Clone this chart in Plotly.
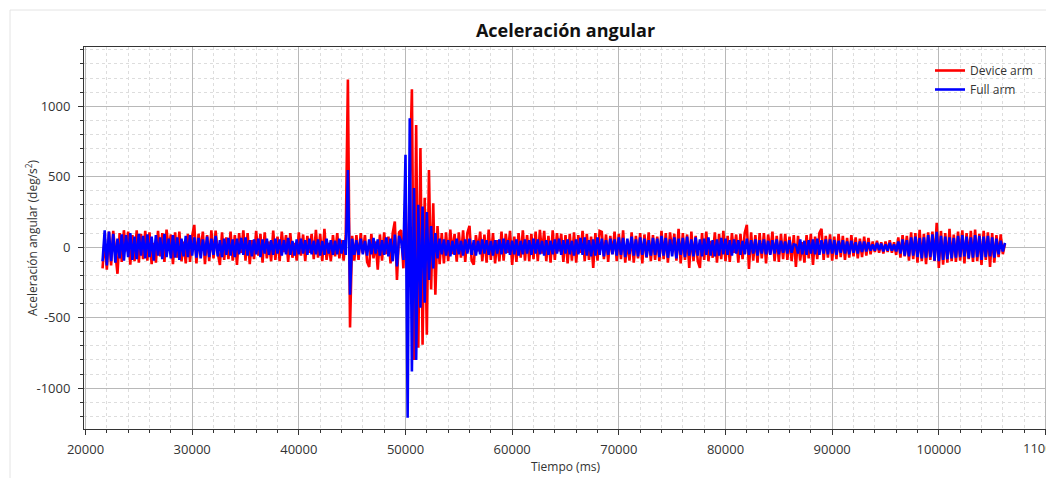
import plotly.graph_objects as go

# Sampling of the recordings (ms)
T_START = 21600
T_STEP = 200

# Device arm angular acceleration (deg/s^2)
device_arm = [
    -150, 60, -160, 110, -130, 115, -40, -189, 100, -105, 120, -30, 110, -125, 85, -100, 120, -110, 95, -85,
    115, -95, 105, -120, 30, -110, 115, -65, 100, -105, 125, -20, 90, -120, 105, -75, 110, -100, 40, -115,
    95, -105, 80, 158, -115, 95, -30, 110, -120, 85, -100, 120, -80, 118, -40, -126, 105, -90, 70, -85,
    110, -95, 85, -126, 100, -40, 120, -95, 100, -120, 50, -85, 115, -60, 95, -110, 105, -80, 40, -100,
    118, -90, 75, -100, 110, -35, 85, -105, 100, -75, 30, -95, 105, -60, 90, -100, 80, -40, 95, -85,
    123, -75, 95, -100, 130, -90, 30, -100, 85, -65, 100, -80, 50, -95, 85, 1190, -570, 80, -95, 85,
    -90, 100, -40, 85, -105, -140, 95, -80, 40, -160, 90, -95, 105, -50, 75, -115, 100, 182, -232, 105,
    120, -150, 250, -300, 500, 1120, -800, 867, -714, 704, -693, 350, -622, 548, -300, 311, -338, 150, -120, 100,
    -115, 105, -100, 125, -50, 95, -102, 105, -75, 120, -105, 100, 151, -95, -125, 85, -30, 110, -100, 90,
    -110, 125, -90, 100, -115, 50, -100, 110, -95, 95, -40, 115, -126, 75, -105, 100, -75, 120, -95, 85,
    -100, 95, -85, 110, -100, 123, -45, 115, -100, 80, -110, 120, -90, 100, -30, 95, -105, 85, -115, 95,
    -95, 105, -110, 85, -40, 115, -100, 95, -90, 75, -147, 100, -95, 115, 108, -85, 90, -105, 80, -50,
    110, -100, 95, -85, 120, -110, 40, -95, 105, -110, 80, -80, 100, -115, 90, -75, 105, -100, 85, -90,
    75, -100, 115, -85, 100, -110, 105, -30, 95, -95, 130, -115, 100, -90, 90, -147, 110, -100, 80, -100,
    -147, 100, -90, 110, -100, 45, -75, 105, -110, 95, -85, 115, -100, 80, -105, 100, -40, 90, -110, 95,
    -85, 100, 158, -154, 105, -95, 85, -110, 100, -80, 100, -115, 90, -45, 110, -100, 80, -105, 95, -85,
    95, -90, 75, -100, 85, -140, 80, -95, 35, -110, 85, -80, 95, -126, 75, -85, 100, 130, -90, 80,
    -75, 90, -95, 75, -85, 95, -70, 80, -90, 65, -75, 85, -65, 70, -80, 60, -70, 75, -60, 65,
    -50, 40, -35, 45, -40, 35, -45, 40, -35, 50, -40, 35, -55, 70, -75, 85, -65, 80, -95, 105,
    -85, 100, -110, 123, -100, 95, -120, 105, -90, 110, -100, 172, -147, 115, -125, 100, -110, 130, -100, 90,
    -105, 110, -95, 120, -115, 100, -85, 115, -105, 125, -100, 95, -126, 115, -90, 105, -140, 100, -110, 85,
    -70, 90, -50, 25,
]

# Full arm angular acceleration (deg/s^2)
full_arm = [
    -100, 120, -130, 110, -100, 95, -110, 60, -80, 90, -95, 85, -70, 100, -90, 75, -85, 95, -60, 80,
    -80, 90, -70, 75, -95, 85, -60, 70, -85, 95, -70, 60, -80, 85, -75, 70, -90, 60, -65, 80,
    -70, 85, -60, 70, -75, 65, -80, 55, -60, 75, -70, 60, -55, 80, -65, 50, -70, 60, -55, 65,
    -60, 55, -70, 60, -50, 65, -55, 70, -60, 50, -65, 55, -50, 60, -70, 55, -45, 60, -55, 50,
    -55, 60, -45, 55, -60, 50, -50, 65, -55, 45, -60, 55, -50, 60, -45, 50, -55, 60, -50, 45,
    -50, 55, -60, 45, -55, 60, -45, 50, -55, 45, -50, 60, -45, 50, -55, 548, -338, 60, -55, 50,
    -55, 60, -50, 45, -60, 55, -50, 65, -45, 55, -60, 50, -55, 70, -65, 60, -100, 90, -137, 80,
    40, -90, 655, -1210, 915, -882, 420, -800, 300, -430, 288, -395, 250, -232, 150, -150, 100, -80, 60, -50,
    55, -60, 50, -65, 45, -55, 60, -50, 45, -60, 55, -45, 60, -55, 50, -60, 45, -50, 55, -45,
    50, -55, 45, -60, 50, -45, 55, -50, 60, -45, 50, -55, 45, -50, 55, -60, 45, -50, 55, -45,
    50, -55, 60, -45, 55, -50, 45, -60, 50, -55, 45, -50, 55, -45, 60, -55, 50, -45, 55, -50,
    45, -60, 55, -50, 65, -55, 70, -60, 50, -65, 55, -60, 70, -55, 60, -65, 50, -55, 60, -50,
    55, -60, 70, -55, 65, -70, 60, -50, 75, -60, 55, -65, 70, -55, 60, -70, 50, -60, 65, -55,
    60, -70, 80, -60, 65, -75, 55, -65, 70, -80, 60, -55, 65, -70, 75, -60, 55, -65, 70, -60,
    55, -65, 60, -55, 70, -60, 50, -65, 55, -60, 65, -50, 60, -55, 50, -60, 55, -45, 50, -55,
    45, -50, 60, -55, 50, -45, 55, -60, 50, -45, 55, -50, 45, -55, 50, -45, 55, -50, 45, -40,
    40, -45, 50, -40, 20, 15, -45, 55, -50, 45, -55, 50, -45, 55, -50, 60, -55, 50, -45, 55,
    -50, 55, -45, 50, -55, 45, -40, 50, -45, 40, -50, 45, -40, 35, -45, 40, -35, 40, -30, 35,
    -25, 20, -25, 30, -20, 25, -30, 20, -25, 30, -25, 20, -30, 40, -45, 55, -60, 50, -65, 70,
    -60, 75, -70, 65, -80, 70, -75, 85, -70, 90, -95, 108, -100, 80, -90, 75, -85, 70, -80, 65,
    -75, 80, -70, 85, -65, 75, -80, 70, -75, 85, -70, 80, -90, 75, -70, 80, -65, 70, -75, 60,
    -50, 45, -30, 30,
]

# Axis ticks
x_tick_vals = [20000, 30000, 40000, 50000, 60000, 70000, 80000, 90000, 100000]
x_tick_text = ["20000", "30000", "40000", "50000", "60000", "70000", "80000", "90000", "100000"]
x_last_tick = 110000
x_last_text = "110000"
y_tick_vals = [-1000, -500, 0, 500, 1000]
y_tick_text = ["-1000", "-500", "0", "500", "1000"]

t_device = [T_START + i * T_STEP for i in range(len(device_arm))]
t_full = [T_START + i * T_STEP for i in range(len(full_arm))]

# The page body adds an 8px offset; the figure is sized/positioned to compensate.
OFF = 8
W, H = 1054 - OFF, 478 - OFF
PL, PR, PT, PB = 84 - OFF, 1047 - OFF, 47 - OFF, 429 - OFF   # plot area in figure px
ML, MR, MT, MB = PL, W - PR, PT, H - PB
PW, PH = PR - PL, PB - PT

FONT = "Open Sans"
TXT = "#333333"

fig = go.Figure()
fig.add_trace(go.Scatter(x=t_device, y=device_arm, mode="lines", name="Device arm",
                         line=dict(color="#ff0000", width=2.6)))
fig.add_trace(go.Scatter(x=t_full, y=full_arm, mode="lines", name="Full arm",
                         line=dict(color="#0000ff", width=2.6)))

axis_common = dict(
    showline=True, linecolor=TXT, linewidth=1, mirror=True,
    ticks="outside", ticklen=5, tickcolor=TXT,
    showgrid=True, gridcolor="#b8b8b8", gridwidth=1,
    zeroline=False, automargin=False,
    tickfont=dict(family=FONT, size=13, color=TXT),
)

fig.update_xaxes(
    **axis_common,
    range=[19860, 110140], tickmode="array",
    tickvals=x_tick_vals + [x_last_tick], ticktext=x_tick_text + [""],
    ticklabelstandoff=3,
    minor=dict(dtick=2000, tick0=20000, ticks="outside", ticklen=3, tickcolor=TXT,
               showgrid=True, gridcolor="#dddddd", griddash="dot"),
    title=dict(text="Tiempo (ms)", font=dict(family=FONT, size=12, color=TXT), standoff=4),
)
fig.update_yaxes(
    **axis_common,
    range=[-1290, 1420], tickmode="array", tickvals=y_tick_vals, ticktext=y_tick_text,
    ticklabelstandoff=5,
    minor=dict(dtick=100, tick0=0, ticks="outside", ticklen=3, tickcolor=TXT,
               showgrid=True, gridcolor="#dddddd", griddash="dot"),
)

fig.update_layout(
    width=W, height=H,
    margin=dict(l=ML, r=MR, t=MT, b=MB),
    paper_bgcolor="white", plot_bgcolor="white",
    title=dict(text="<b>Aceleración angular</b>", x=0.5, xref="paper",
               y=1 - (31 - OFF) / H, yref="container", yanchor="middle",
               font=dict(family=FONT, size=18, color="#111111")),
    legend=dict(x=(930 - OFF - PL) / PW, xanchor="left", y=(PB - (56 - OFF)) / PH, yanchor="top",
                bgcolor="rgba(0,0,0,0)", font=dict(family=FONT, size=12, color=TXT),
                itemwidth=30, tracegroupgap=0),
    showlegend=True,
)

# y-axis title placed explicitly
fig.add_annotation(text="Aceleración angular (deg/s<sup>2</sup>)", textangle=-90,
                   xref="paper", yref="paper", x=(32 - OFF - PL) / PW, y=0.5,
                   xanchor="center", yanchor="middle", showarrow=False,
                   font=dict(family=FONT, size=12, color=TXT))

# last x tick label (partly cut by the page edge, as in the reference)
fig.add_annotation(text=x_last_text, xref="x", yref="paper", x=x_last_tick,
                   y=-(448 - 429) / PH, xanchor="center", yanchor="middle", showarrow=False,
                   font=dict(family=FONT, size=13, color=TXT))

# light outer card border
fig.add_shape(type="rect", xref="paper", yref="paper",
              x0=(10 - OFF - PL) / PW, x1=(W + 20 - PL) / PW,
              y0=-(MB + 20) / PH, y1=(PB - (10 - OFF)) / PH,
              line=dict(color="#e4e4e4", width=1), fillcolor="rgba(0,0,0,0)", layer="below")

fig.write_html("out.html")
